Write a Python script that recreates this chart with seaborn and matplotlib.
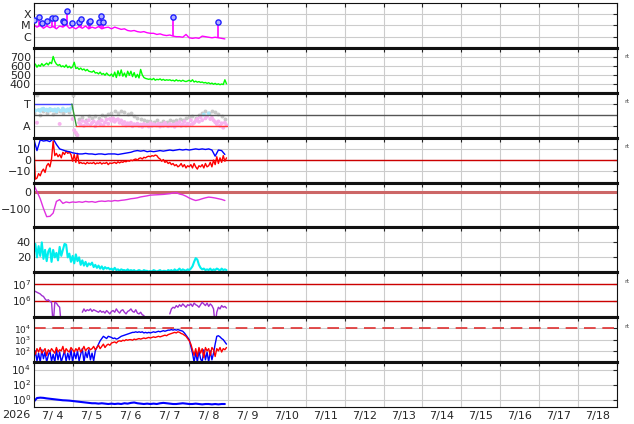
import numpy as np
import pandas as pd
import seaborn as sns
import matplotlib.pyplot as plt
import matplotlib.transforms as mtransforms
from matplotlib.ticker import NullLocator

sns.set_style('white')
plt.rcParams['font.family'] = ['DejaVu Sans']

# --- axis labels ---
day_labels = ['7/ 4', '7/ 5', '7/ 6', '7/ 7', '7/ 8', '7/ 9', '7/10', '7/11',
              '7/12', '7/13', '7/14', '7/15', '7/16', '7/17', '7/18']
year_label = '2026'

# --- panel 1: X-ray flux (log10 W/m2), 2h cadence ---
xray_bg = [-4.95, -5.15, -5.0, -5.25, -5.05, -5.2, -5.1, -5.3, -5.05, -5.15, -4.95, -5.25,
           -5.15, -5.3, -5.1, -5.25, -5.05, -5.3, -5.15, -5.25, -5.1, -5.3, -5.2, -5.15,
           -5.3, -5.15, -5.25, -5.35, -5.3, -5.45, -5.5, -5.45, -5.55, -5.6, -5.55, -5.65,
           -5.7, -5.7, -5.8, -5.75, -5.85, -5.9, -5.85, -5.95, -6.0, -6.0, -6.05, -5.8,
           -6.1, -6.15, -6.1, -6.15, -5.95, -6.0, -6.05, -6.1, -6.05, -6.1, -6.15, -6.2]
flare_day = [0.0, 0.14, 0.21, 0.34, 0.47, 0.55, 0.75, 0.78, 0.85, 0.98,
             1.16, 1.21, 1.42, 1.44, 1.67, 1.73, 1.78, 3.57, 4.73]
flare_peak = [-4.55, -4.27, -4.82, -4.64, -4.36, -4.36, -4.64, -4.73, -3.73, -4.82,
              -4.73, -4.45, -4.73, -4.64, -4.73, -4.18, -4.73, -4.27, -4.73]

# --- panel 2: solar wind speed (km/s), hourly ---
speed = [600, 620, 585, 610, 595, 625, 600, 615, 630, 610, 640, 625,
         705, 650, 620, 605, 615, 590, 600, 585, 610, 580, 595, 575,
         590, 640, 570, 580, 560, 575, 555, 565, 545, 560, 540, 535,
         530, 545, 520, 525, 510, 530, 505, 515, 495, 520, 500, 490,
         510, 480, 530, 470, 545, 490, 555, 485, 520, 475, 540, 495,
         540, 480, 525, 470, 505, 465, 560, 500, 470, 460, 455, 450,
         455, 445, 460, 440, 450, 445, 455, 440, 450, 438, 445, 440,
         445, 435, 440, 430, 445, 432, 438, 428, 440, 430, 425, 432,
         440, 425, 445, 420, 430, 418, 425, 415, 420, 410, 415, 405,
         412, 400, 408, 395, 405, 392, 400, 390, 398, 392, 445, 400]

# --- panel 3: IMF angle (deg), hourly + second source 2h, sector line ---
phi_main = [225, 218, 120, 222, 215, 228, 232, 220, 225, 216, 230, 224,
            218, 226, 212, 229, 110, 217, 233, 221, 214, 227, 219, 235,
            150, 60, 40, 20,
            120, 105, 135, 95, 125, 110, 140, 100, 118, 130, 92, 115,
            128, 108, 138, 100, 122, 145, 112, 150, 135, 155, 128, 142,
            148, 120, 138, 110, 125, 98, 115, 105, 120, 92, 108, 100,
            112, 95, 105, 88, 110, 98, 102, 90, 115, 95, 108, 100,
            98, 112, 90, 105, 95, 118, 100, 92, 110, 96, 104, 88,
            115, 100, 125, 95, 108, 130, 98, 112, 105, 140, 110, 120,
            135, 150, 128, 165, 140, 185, 155, 170, 195, 150, 160, 140,
            125, 110, 130, 95, 115, 80, 120, 100]
phi_alt = [200, 340, 185, 210, 195, 220, 190, 205, 215, 198, 225, 208,
           345, 30, 150, 165, 140, 170, 155, 175, 160, 185, 170, 190,
           200, 215, 195, 210, 205, 190, 200, 175, 160, 150, 140, 135,
           130, 125, 140, 120, 135, 128, 145, 130, 138, 150, 142, 160,
           165, 175, 160, 185, 200, 210, 195, 215, 205, 190, 175, 150]
sector_day = [0.0, 0.98, 1.1, 4.98]
sector_deg = [270, 270, 90, 90]

# --- panel 4: IMF Bt / Bz (nT) ---
bt = [19, 8.5, 18, 17, 17.5, 16.5, 19, 14, 10, 9, 8, 7.5,
      6.5, 6, 5.5, 5.5, 6, 5.5, 5.5, 5, 5.5, 5.5, 5, 5.5,
      5.5, 5.5, 5, 5.5, 6, 6.5, 7, 8, 8.5, 8, 8.5, 7.5,
      8, 7.5, 8, 8.5, 8, 8.5, 9, 8.5, 9, 9.5, 9, 9.5,
      9, 9.5, 10, 9.5, 10, 9.5, 10, 9, 3.5, 9, 8.5, 5]
bz = [18, -17, -16, -12, -14, -10, -8, -11, -5, -3, -6, 1,
      17, 4, 6, 3, 5, 2, 7, 5, 8, 6, 7, 5,
      -1, 5, -2, 6, -3, -2, -3, -2.5, -3.5, -2, -3, -2.5,
      -3, -2, -3.5, -2.5, -3, -2, -3.5, -2.5, -3, -2, -4, -2.5,
      -3, -2.5, -2, -3, -1.5, -2.5, -1.5, -2, -1, -1.5, -0.5, -1,
      0, -0.5, 0.5, 1, 0, 1.5, 2, 1, 2.5, 2, 3, 3.5,
      3, 4, 3.5, 4.5, 4, 2, 1, -1, 0.5, -2, -1, -3,
      -2, -4, -3, -5, -4, -6, -5, -3, -6, -4, -7, -5,
      -6, -4, -7, -3, -6, -8, -5, -6, -4, -7, -3, -6,
      -5, -2, -6, 0, -4, 3, -3, 2, -2, 4, -1, 2]

# --- panel 5: Dst (nT), 2h ---
dst = [37, 0, -40, -94, -140, -138, -120, -55, -45, -66, -58, -62,
       -58, -60, -57, -60, -55, -58, -56, -60, -55, -53, -55, -52,
       -54, -50, -52, -49, -47, -44, -40, -38, -35, -30, -27, -24,
       -20, -19, -18, -17, -16, -14, -12, -8, -6, -14, -18, -26,
       -36, -44, -50, -46, -40, -35, -31, -33, -36, -40, -44, -50]

# --- panel 6: activity index, hourly ---
index6 = [25, 38, 20, 35, 22, 40, 18, 30, 15, 28, 32, 14,
          30, 20, 26, 16, 34, 22, 30, 38, 37, 20, 25, 14,
          22, 12, 24, 15, 20, 10, 16, 9, 14, 8, 12, 10,
          13, 7, 10, 6, 9, 5, 8, 4, 7, 5, 6, 4,
          5, 3, 6, 3, 4, 2, 4, 3, 3, 2, 4, 2,
          3, 2, 3, 1, 2, 3, 2, 1, 3, 2, 2, 1,
          2, 1, 3, 2, 1, 2, 3, 1, 2, 2, 1, 3,
          2, 3, 1, 4, 2, 3, 5, 2, 4, 3, 2, 4,
          3, 5, 8, 14, 19, 17, 10, 6, 4, 5, 3, 4,
          3, 5, 2, 4, 3, 5, 4, 2, 5, 3, 4, 3]

# --- panel 7: electron flux (log10), hourly, nan = gap ---
nan = np.nan
electron = [6.6, 6.55, 6.5, 6.45, 6.4, 6.3, 6.25, 6.1, 6.0, 6.05, 5.95, 5.9,
            4.5, 5.9, 5.85, 5.7, 5.6, 4.5,
            nan, nan, nan, nan, nan, nan, nan, nan, nan, nan, nan, nan,
            5.3, 5.5, 5.35, 5.45, 5.4, 5.5, 5.35, 5.45, 5.4, 5.35, 5.3, 5.4,
            5.3, 5.35, 5.25, 5.4, 5.3, 5.2, 5.35, 5.4, 5.3, 5.5, 5.35, 5.25,
            5.4, 5.45, 5.3, 5.2, 5.35, 5.4, 5.5, 5.35, 5.3, 5.45, 5.25, 5.2,
            5.3, 5.15, 5.1, 4.8,
            nan, nan, nan, nan, nan, nan, nan, nan, nan, nan, nan, nan, nan, nan,
            5.2, 5.5, 5.6, 5.55, 5.7, 5.6, 5.75, 5.65, 5.8, 5.7, 5.6, 5.75,
            5.7, 5.8, 5.65, 5.85, 5.75, 5.7, 5.6, 5.75, 5.9, 5.8, 5.7, 5.85,
            5.65, 5.8, 5.7, 5.5, 4.5, 5.3, 5.6, 5.5, 5.7, 5.6, 5.65, 5.55]

# --- panel 8: proton flux (log10), hourly ---
proton_hi = [1.2, 2.0, 1.1, 1.8, 1.0, 2.1, 1.3, 1.9, 1.0, 1.6, 2.0, 1.1,
             1.7, 1.0, 2.1, 1.2, 1.9, 1.0, 1.5, 2.0, 1.1, 1.8, 1.2, 2.1,
             1.0, 1.9, 1.3, 2.0, 1.1, 1.7, 2.2, 1.0, 1.9, 1.4, 2.1, 1.2,
             1.8, 1.1, 2.0, 2.3, 2.6, 2.9, 3.1, 3.3, 3.2, 3.1, 3.3, 3.25,
             3.2, 3.1, 3.15, 3.05, 3.1, 3.2, 3.3, 3.35, 3.4, 3.45, 3.5, 3.55,
             3.6, 3.65, 3.65, 3.7, 3.65, 3.7, 3.65, 3.7, 3.6, 3.65, 3.6, 3.65,
             3.6, 3.65, 3.7, 3.65, 3.7, 3.75, 3.7, 3.75, 3.8, 3.75, 3.8, 3.85,
             3.85, 3.9, 3.85, 3.9, 3.85, 3.9, 3.85, 3.8, 3.75, 3.6, 3.4, 3.2,
             3.0, 2.4, 1.8, 1.0, 1.9, 1.0, 2.0, 1.3, 1.0, 2.1, 1.2, 1.9,
             1.0, 2.0, 1.2, 1.8, 2.6, 3.3, 3.35, 3.25, 3.1, 3.0, 2.8, 2.6]
proton_lo = [2.1, 1.7, 2.2, 1.9, 2.3, 1.8, 2.0, 2.2, 1.6, 2.1, 1.9, 2.2,
             2.0, 1.8, 2.3, 1.9, 2.1, 2.0, 2.4, 1.8, 2.2, 2.0, 1.9, 2.3,
             2.1, 1.9, 2.2, 2.0, 2.3, 1.9, 2.1, 2.4, 2.0, 2.2, 2.3, 2.1,
             2.2, 2.4, 2.1, 2.3, 2.5, 2.2, 2.4, 2.6, 2.3, 2.5, 2.6, 2.5,
             2.7, 2.75, 2.8, 2.7, 2.85, 2.9, 2.85, 2.95, 2.9, 3.0, 2.95, 3.0,
             3.0, 2.95, 3.05, 3.0, 3.05, 3.1, 3.05, 3.1, 3.15, 3.1, 3.15, 3.2,
             3.15, 3.2, 3.25, 3.2, 3.25, 3.3, 3.25, 3.3, 3.35, 3.4, 3.35, 3.45,
             3.5, 3.55, 3.6, 3.65, 3.6, 3.7, 3.65, 3.55, 3.5, 3.4, 3.3, 3.1,
             2.9, 2.6, 2.1, 1.6, 2.2, 1.5, 2.3, 1.8, 2.2, 1.4, 2.3, 2.0,
             2.2, 1.6, 2.3, 2.1, 1.5, 2.2, 2.0, 2.3, 1.9, 2.2, 2.1, 2.3]

# --- panel 9: flux (log10), 2h ---
flux9 = [-0.3, 0.2, 0.25, 0.22, 0.15, 0.1, 0.05, 0.0, -0.05, -0.1, -0.12, -0.15,
         -0.2, -0.25, -0.3, -0.35, -0.4, -0.45, -0.5, -0.5, -0.55, -0.5, -0.55, -0.6,
         -0.55, -0.6, -0.55, -0.6, -0.5, -0.55, -0.45, -0.4, -0.5, -0.55, -0.6, -0.55,
         -0.6, -0.55, -0.6, -0.5, -0.45, -0.5, -0.55, -0.6, -0.6, -0.55, -0.5, -0.55,
         -0.6, -0.6, -0.55, -0.6, -0.65, -0.6, -0.6, -0.65, -0.6, -0.65, -0.6, -0.6]

t_h = np.arange(120) / 24.0
t_2h = np.arange(60) / 12.0


def frame(ax, first=False, last=False, ysize=8):
    ax.set_xlim(0, 15)
    ax.set_xticks(range(16))
    ax.set_xticklabels([])
    ax.grid(True, which='major', color='#cccccc', lw=0.8)
    ax.set_axisbelow(True)
    ax.tick_params(axis='both', which='major', direction='in', length=3, width=0.8,
                   top=True, right=True, labelsize=8, pad=2)
    ax.tick_params(axis='y', labelsize=ysize, pad=2)
    for side in ['left', 'right']:
        ax.spines[side].set_linewidth(0.8)
    ax.spines['top'].set_linewidth(0.8 if first else 2.2)
    ax.spines['bottom'].set_linewidth(0.8 if last else 2.2)
    for s in ax.spines.values():
        s.set_color('#111111')
    ax.set_xlabel('')
    ax.set_ylabel('')


def seg_line(ax, t, logv, color, lw):
    df = pd.DataFrame({'t': t, 'v': 10 ** np.array(logv, dtype=float)})
    df['seg'] = df['v'].isna().cumsum()
    df = df.dropna()
    sns.lineplot(data=df, x='t', y='v', units='seg', estimator=None, sort=False,
                 color=color, lw=lw, ax=ax)


def rt(ax):
    ax.text(1.012, 0.8, 'rt', transform=ax.transAxes, fontsize=4.5,
            color='#444444', va='center', ha='left')


fig, axes = plt.subplots(9, 1, figsize=(6.34, 4.24), dpi=100)
fig.subplots_adjust(left=0.0532, right=0.973, top=0.9929, bottom=0.0401, hspace=0)

# 1 X-ray
ax = axes[0]
ax.set_yscale('log')
bg = 10 ** np.array(xray_bg)
sns.lineplot(x=t_2h, y=bg, color='#ff00ff', lw=1.0, ax=ax, estimator=None, sort=False)
fd = np.array(flare_day)
ax.vlines(fd, 10 ** np.interp(fd, t_2h, xray_bg), 10 ** np.array(flare_peak),
          color='#ff00ff', lw=1.2)
sns.scatterplot(x=fd, y=10 ** np.array(flare_peak), ax=ax, marker='o', s=14,
                facecolor='#b0b0ff', edgecolor='#2020ff', linewidth=1.0, zorder=5)
ax.set_ylim(1e-7, 1e-3)
ax.yaxis.set_minor_locator(NullLocator())
ax.set_yticks([1e-6, 1e-5, 1e-4])
ax.set_yticklabels(['C', 'M', 'X'])
frame(ax, first=True)

# 2 speed
ax = axes[1]
sns.lineplot(x=t_h, y=speed, color='#00ff00', lw=1.0, ax=ax, estimator=None, sort=False)
ax.set_ylim(300, 800)
ax.set_yticks([400, 500, 600, 700])
frame(ax)
rt(ax)

# 3 sector
ax = axes[2]
sns.scatterplot(x=t_2h, y=phi_alt, color='#c8c8c8', s=8, linewidth=0, ax=ax)
ph = pd.DataFrame({'t': t_h, 'phi': phi_main})
ph['side'] = np.where(ph['phi'] > 180, 'T', 'A')
sns.scatterplot(data=ph, x='t', y='phi', hue='side',
                palette={'T': '#a6e6fb', 'A': '#f7b3ee'}, s=8, linewidth=0,
                legend=False, ax=ax)
ax.axhline(180, color='#555555', lw=1.0)
for i, c in enumerate(['#4444ff', '#339933', '#ff3333']):
    sns.lineplot(x=sector_day[i:i + 2], y=sector_deg[i:i + 2], color=c, lw=1.0, ax=ax)
ax.set_ylim(0, 360)
ax.set_yticks([90, 270])
ax.set_yticklabels(['A', 'T'])
frame(ax)
rt(ax)

# 4 IMF
ax = axes[3]
ax.axhline(0, color='#cc0000', lw=1.0)
sns.lineplot(x=t_h, y=bz, color='#ff0000', lw=1.0, ax=ax, estimator=None, sort=False)
sns.lineplot(x=t_2h, y=bt, color='#0000ff', lw=1.0, ax=ax, estimator=None, sort=False)
ax.set_ylim(-20, 20)
ax.set_yticks([-10, 0, 10])
ax.set_yticklabels(['\u221210', '0', '10'])
frame(ax)
rt(ax)

# 5 Dst
ax = axes[4]
ax.axhline(0, color='#cc6666', lw=2.2)
sns.lineplot(x=t_2h, y=dst, color='#e030e0', lw=1.0, ax=ax, estimator=None, sort=False)
ax.set_ylim(-200, 50)
ax.set_yticks([-100, 0])
ax.set_yticklabels(['\u2212100', '0'])
frame(ax)

# 6 index
ax = axes[5]
sns.lineplot(x=t_h, y=index6, color='#00eeee', lw=1.5, ax=ax, estimator=None, sort=False)
ax.set_ylim(0, 60)
ax.set_yticks([20, 40])
frame(ax)

# 7 electrons
ax = axes[6]
ax.set_yscale('log')
ax.axhline(1e7, color='#cc0000', lw=1.0)
ax.axhline(1e6, color='#cc0000', lw=1.0)
seg_line(ax, t_h, electron, '#a030d0', 1.0)
ax.set_ylim(1e5, 5e7)
ax.yaxis.set_minor_locator(NullLocator())
ax.set_yticks([1e6, 1e7])
frame(ax, ysize=7.5)
rt(ax)

# 8 protons
ax = axes[7]
ax.set_yscale('log')
ax.axhline(1e4, color='#e03030', lw=1.2, ls=(0, (7, 4)))
sns.lineplot(x=t_h, y=10 ** np.array(proton_hi), color='#0000ff', lw=1.0, ax=ax,
             estimator=None, sort=False)
sns.lineplot(x=t_h, y=10 ** np.array(proton_lo), color='#ff0000', lw=1.0, ax=ax,
             estimator=None, sort=False)
ax.set_ylim(10, 1e5)
ax.yaxis.set_minor_locator(NullLocator())
ax.set_yticks([1e2, 1e3, 1e4])
frame(ax, ysize=6.5)
rt(ax)

# 9 flux
ax = axes[8]
ax.set_yscale('log')
sns.lineplot(x=t_2h, y=10 ** np.array(flux9), color='#0000ff', lw=1.5, ax=ax,
             estimator=None, sort=False)
ax.set_ylim(0.1, 1e5)
ax.yaxis.set_minor_locator(NullLocator())
ax.set_yticks([1e0, 1e2, 1e4])
frame(ax, last=True, ysize=7.5)
ax.set_xticks([i + 0.5 for i in range(15)], minor=True)
ax.set_xticklabels(day_labels, minor=True)
ax.tick_params(axis='x', which='minor', length=0, labelsize=8, pad=3)
trans = mtransforms.blended_transform_factory(ax.transData, ax.transAxes)
ax.text(-0.44, -0.075, year_label, transform=trans, ha='center', va='top',
        fontsize=8, clip_on=False)

fig.savefig('out.png', dpi=100)
